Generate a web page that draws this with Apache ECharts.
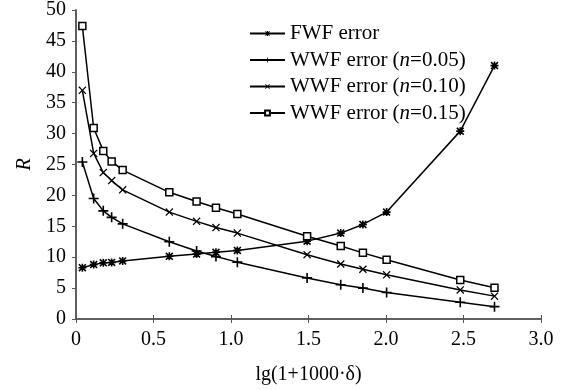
<!DOCTYPE html>
<html>
<head>
<meta charset="utf-8">
<script src="https://cdn.jsdelivr.net/npm/echarts@6/dist/echarts.min.js"></script>
<style>
  html, body { margin: 0; padding: 0; background: #fff; }
  #chart { width: 580px; height: 390px; }
</style>
</head>
<body>
<div id="chart"></div>
<script>
// lg(1+1000·δ) values along the x axis
const xValues = [0.041, 0.114, 0.176, 0.230, 0.301, 0.602, 0.778, 0.903, 1.041, 1.491, 1.708, 1.851, 2.004, 2.479, 2.700];

const fwfError = [8.3, 8.8, 9.1, 9.15, 9.4, 10.15, 10.5, 10.8, 11.1, 12.6, 13.9, 15.3, 17.3, 30.4, 41.0];
const wwf005 = [25.4, 19.5, 17.5, 16.45, 15.4, 12.5, 11.0, 10.1, 9.2, 6.65, 5.55, 5.0, 4.3, 2.7, 2.0];
const wwf010 = [37.0, 26.8, 23.7, 22.4, 20.9, 17.3, 15.8, 14.8, 13.9, 10.4, 8.9, 8.05, 7.15, 4.7, 3.7];
const wwf015 = [47.4, 30.9, 27.2, 25.5, 24.1, 20.5, 19.0, 18.0, 17.0, 13.4, 11.8, 10.7, 9.6, 6.3, 5.05];

const seriesNames = ['FWF error', 'WWF error (n=0.05)', 'WWF error (n=0.10)', 'WWF error (n=0.15)'];

const FONT = '"Liberation Serif", "DejaVu Serif", serif';

// marker shapes
const asterisk = 'path://M4,0H6V4H10V6H6V10H4V6H0V4H4Z M0,1.4L1.4,0L5,3.6L8.6,0L10,1.4L6.4,5L10,8.6L8.6,10L5,6.4L1.4,10L0,8.6L3.6,5Z';
const plus = 'path://M4.2,0H5.8V4.2H10V5.8H5.8V10H4.2V5.8H0V4.2H4.2Z';
const cross = 'path://M0,1.1L1.1,0L5,3.9L8.9,0L10,1.1L6.1,5L10,8.9L8.9,10L5,6.1L1.1,10L0,8.9L3.9,5Z';

function pairs(ys) {
  return xValues.map((x, i) => [x, ys[i]]);
}

function makeSeries(name, ys, symbol, size, hollow) {
  return {
    name: name,
    type: 'line',
    data: pairs(ys),
    symbol: symbol,
    symbolSize: size,
    showAllSymbol: true,
    lineStyle: { color: '#000', width: 1.5 },
    itemStyle: hollow
      ? { color: '#fff', borderColor: '#000', borderWidth: 1.5 }
      : { color: '#000', borderWidth: 0 },
    emphasis: { disabled: true },
    animation: false
  };
}

const chart = echarts.init(document.getElementById('chart'), null, { renderer: 'canvas' });

const axisLine = { show: true, lineStyle: { color: '#555', width: 1.5 } };

chart.setOption({
  backgroundColor: '#fff',
  grid: { left: 76, right: 39, top: 10, bottom: 70, containLabel: false },
  legend: {
    orient: 'vertical',
    left: 244,
    top: 18,
    itemWidth: 35,
    itemHeight: 6,
    itemGap: 5.5,
    data: seriesNames,
    formatter: function (name) {
      const m = name.match(/^(.*\()n(=.*)$/);
      if (m) return '{a|' + m[1] + '}{i|n}{a|' + m[2] + '}';
      return '{a|' + name + '}';
    },
    textStyle: {
      fontFamily: FONT,
      fontSize: 21,
      color: '#000',
      rich: {
        a: { fontFamily: FONT, fontSize: 21, color: '#000' },
        i: { fontFamily: FONT, fontSize: 21, color: '#000', fontStyle: 'italic' }
      }
    }
  },
  xAxis: [
    {
      type: 'value',
      min: 0,
      max: 3,
      interval: 0.5,
      name: 'lg(1+1000·δ)',
      nameLocation: 'middle',
      nameGap: 46,
      nameTextStyle: { fontFamily: FONT, fontSize: 20, color: '#000' },
      axisLine: axisLine,
      axisTick: { show: true, inside: true, length: 4, lineStyle: { color: '#555' } },
      axisLabel: {
        fontFamily: FONT,
        fontSize: 20,
        color: '#000',
        margin: 11,
        formatter: v => (v === 0 ? '0' : v.toFixed(1))
      },
      splitLine: { show: false }
    },
    {
      type: 'value',
      position: 'top',
      min: 0,
      max: 3,
      interval: 0.5,
      axisLine: axisLine,
      axisTick: { show: true, inside: true, length: 4, lineStyle: { color: '#555' } },
      axisLabel: { show: false },
      splitLine: { show: false }
    }
  ],
  yAxis: [
    {
      type: 'value',
      min: 0,
      max: 50,
      interval: 5,
      name: 'R',
      nameLocation: 'middle',
      nameRotate: 90,
      nameGap: 35,
      nameTextStyle: { fontFamily: FONT, fontSize: 20, color: '#000', fontStyle: 'italic' },
      axisLine: axisLine,
      axisTick: { show: false },
      axisLabel: { fontFamily: FONT, fontSize: 20, color: '#000', margin: 10 },
      splitLine: { show: false }
    },
    {
      type: 'value',
      position: 'right',
      min: 0,
      max: 50,
      interval: 5,
      axisLine: axisLine,
      axisTick: { show: true, inside: true, length: 4, lineStyle: { color: '#555' } },
      axisLabel: { show: false },
      splitLine: { show: false }
    }
  ],
  series: [
    makeSeries(seriesNames[0], fwfError, asterisk, 8, false),
    makeSeries(seriesNames[1], wwf005, plus, 10, false),
    makeSeries(seriesNames[2], wwf010, cross, 8, false),
    makeSeries(seriesNames[3], wwf015, 'rect', 7, true)
  ]
});
</script>
</body>
</html>
